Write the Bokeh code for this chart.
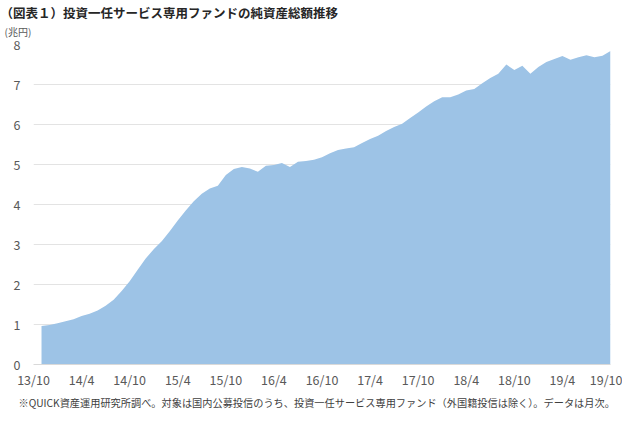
from bokeh.plotting import figure
from bokeh.models import ColumnDataSource, Range1d, FixedTicker, Title
from bokeh.embed import file_html
from bokeh.resources import INLINE

# 純資産総額（兆円）, monthly 2013/11 - 2019/10
nav = [
    0.96, 0.99, 1.03, 1.08, 1.13, 1.21, 1.27, 1.35, 1.47, 1.62, 1.84, 2.08,
    2.37, 2.65, 2.88, 3.08, 3.33, 3.60, 3.85, 4.08, 4.27, 4.40, 4.47, 4.74,
    4.89, 4.94, 4.90, 4.82, 4.97, 4.99, 5.04, 4.94, 5.07, 5.09, 5.12, 5.18,
    5.28, 5.36, 5.40, 5.43, 5.54, 5.64, 5.72, 5.84, 5.94, 6.02, 6.16, 6.30,
    6.45, 6.58, 6.68, 6.68, 6.75, 6.85, 6.89, 7.03, 7.16, 7.27, 7.50, 7.36,
    7.47, 7.27, 7.44, 7.56, 7.64, 7.71, 7.62, 7.68, 7.73, 7.68, 7.72, 7.84,
]
month_index = list(range(1, len(nav) + 1))  # months after 2013/10

x_tick_labels = ["13/10", "14/4", "14/10", "15/4", "15/10", "16/4", "16/10",
                 "17/4", "17/10", "18/4", "18/10", "19/4", "19/10"]
x_tick_pos = [6 * i for i in range(len(x_tick_labels))]
y_ticks = [0, 1, 2, 3, 4, 5, 6, 7, 8]

title_text = "（図表１）投資一任サービス専用ファンドの純資産総額推移"
unit_text = "(兆円)"
note_text = "※QUICK資産運用研究所調べ。対象は国内公募投信のうち、投資一任サービス専用ファンド（外国籍投信は除く）。データは月次。"

FONT = "Noto Sans CJK JP"

src = ColumnDataSource(dict(m=month_index, v=nav))

p = figure(width=622, height=413, output_backend="svg", toolbar_location=None,
           x_range=Range1d(0, 72), y_range=Range1d(0, 8),
           min_border_left=33, min_border_right=12, min_border_top=42,
           min_border_bottom=49, title=None)
p.outline_line_color = None
p.background_fill_color = "white"
p.border_fill_color = "white"

p.varea(x="m", y1=0, y2="v", source=src, fill_color="#9DC3E6", fill_alpha=1.0)

p.xgrid.grid_line_color = None
p.ygrid.grid_line_color = "#e3e3e3"
p.ygrid.grid_line_width = 1

p.xaxis.ticker = FixedTicker(ticks=x_tick_pos)
p.xaxis.major_label_overrides = {pos: lab for pos, lab in zip(x_tick_pos, x_tick_labels)}
p.yaxis.ticker = FixedTicker(ticks=y_ticks)

for ax in (p.xaxis[0], p.yaxis[0]):
    ax.major_tick_line_color = None
    ax.minor_tick_line_color = None
    ax.major_tick_out = 0
    ax.major_tick_in = 0
    ax.minor_tick_out = 0
    ax.minor_tick_in = 0
    ax.major_label_text_font = FONT
    ax.major_label_text_font_size = "12.5px"
    ax.major_label_text_color = "#595959"
p.xaxis.axis_line_color = "#d9d9d9"
p.yaxis.axis_line_color = None
p.xaxis.major_label_standoff = 5
p.yaxis.major_label_standoff = 13

unit = Title(text=unit_text, text_font=FONT, text_font_size="10px",
             text_font_style="normal", text_color="#595959", align="left",
             vertical_align="top", offset=-29, standoff=5.5)
p.add_layout(unit, "above")
main = Title(text=title_text, text_font=FONT, text_font_size="12.5px",
             text_font_style="bold", text_color="#262626", align="left",
             offset=-33, standoff=0)
p.add_layout(main, "above")

note = Title(text=note_text, text_font=FONT, text_font_size="10.2px",
             text_font_style="normal", text_color="#404040", align="left",
             offset=-15, standoff=2)
p.add_layout(note, "below")

open("out.html", "w").write(file_html(p, INLINE))
